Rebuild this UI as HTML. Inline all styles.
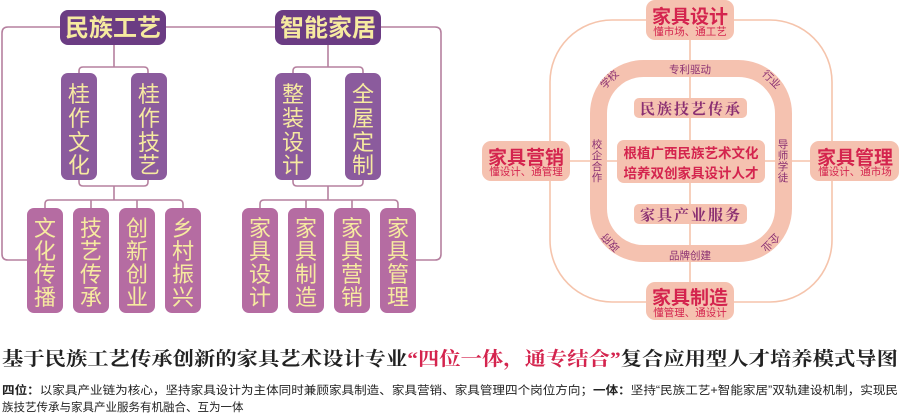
<!DOCTYPE html>
<html><head><meta charset="utf-8"><style>
body{margin:0;background:#fff;width:900px;height:418px;overflow:hidden}
svg{display:block}
.v{font-family:"Liberation Sans","Noto Sans CJK SC",sans-serif;fill:#f6eaa0}
</style></head><body>
<svg width="900" height="418" viewBox="0 0 900 418" xmlns="http://www.w3.org/2000/svg">
<g fill="none" stroke="#b5809f" stroke-width="1.6">
<path d="M60 27 H8 Q2 27 2 33 V254 Q2 260 8 260 H27"/>
<path d="M166 27 H275"/>
<path d="M381 27 H435 Q441 27 441 33 V254 Q441 260 435 260 H416"/>
<path d="M114 45 V67 M79 73 V71 Q79 67 83 67 H144 Q148 67 148 71 V73"/>
<path d="M79 180 V182 Q79 186 83 186 H144 Q148 186 148 182 V180 M114 186 V200 M45 208 V204 Q45 200 49 200 H179 Q183 200 183 204 V208 M91 200 V208 M137 200 V208"/>
<path d="M328 45 V67 M293 73 V71 Q293 67 297 67 H359 Q363 67 363 71 V73"/>
<path d="M293 180 V182 Q293 186 297 186 H359 Q363 186 363 182 V180 M328 186 V200 M260 208 V204 Q260 200 264 200 H394 Q398 200 398 204 V208 M306 200 V208 M352 200 V208"/>
</g>
<rect x="60" y="10" width="106" height="35" rx="8" fill="#6b3c83"/>
<rect x="275" y="10" width="106" height="35" rx="8" fill="#6b3c83"/>
<text x="113" y="36" text-anchor="middle" font-size="24" font-weight="bold" class="v">民族工艺</text>
<text x="328" y="36" text-anchor="middle" font-size="24" font-weight="bold" class="v">智能家居</text>
<g fill="#8b5b9d">
<rect x="61" y="73" width="36" height="107" rx="7"/><rect x="131" y="73" width="36" height="107" rx="7"/>
<rect x="275" y="73" width="36" height="107" rx="7"/><rect x="345" y="73" width="36" height="107" rx="7"/>
</g>
<g fill="#b56ca2">
<rect x="27" y="208" width="36" height="105" rx="7"/><rect x="73" y="208" width="36" height="105" rx="7"/>
<rect x="119" y="208" width="36" height="105" rx="7"/><rect x="165" y="208" width="36" height="105" rx="7"/>
<rect x="242" y="208" width="36" height="105" rx="7"/><rect x="288" y="208" width="36" height="105" rx="7"/>
<rect x="334" y="208" width="36" height="105" rx="7"/><rect x="380" y="208" width="36" height="105" rx="7"/>
</g>
<g class="v" font-size="22" text-anchor="middle">
<text x="79" y="102">桂</text><text x="79" y="126">作</text><text x="79" y="150">文</text><text x="79" y="173">化</text>
<text x="149" y="102">桂</text><text x="149" y="126">作</text><text x="149" y="150">技</text><text x="149" y="173">艺</text>
<text x="293" y="102">整</text><text x="293" y="126">装</text><text x="293" y="150">设</text><text x="293" y="173">计</text>
<text x="363" y="102">全</text><text x="363" y="126">屋</text><text x="363" y="150">定</text><text x="363" y="173">制</text>
</g>
<g class="v" font-size="22" text-anchor="middle">
<text x="45" y="236">文</text><text x="45" y="259">化</text><text x="45" y="282">传</text><text x="45" y="305">播</text>
<text x="91" y="236">技</text><text x="91" y="259">艺</text><text x="91" y="282">传</text><text x="91" y="305">承</text>
<text x="137" y="236">创</text><text x="137" y="259">新</text><text x="137" y="282">创</text><text x="137" y="305">业</text>
<text x="183" y="236">乡</text><text x="183" y="259">村</text><text x="183" y="282">振</text><text x="183" y="305">兴</text>
<text x="260" y="236">家</text><text x="260" y="259">具</text><text x="260" y="282">设</text><text x="260" y="305">计</text>
<text x="306" y="236">家</text><text x="306" y="259">具</text><text x="306" y="282">制</text><text x="306" y="305">造</text>
<text x="352" y="236">家</text><text x="352" y="259">具</text><text x="352" y="282">营</text><text x="352" y="305">销</text>
<text x="398" y="236">家</text><text x="398" y="259">具</text><text x="398" y="282">管</text><text x="398" y="305">理</text>
</g>

<g fill="none" stroke="#f5c4ac" stroke-width="1.6">
<rect x="550" y="20" width="282" height="282" rx="62"/>
<path d="M690 20 V302 M550 161 H832"/>
</g>
<rect x="598.5" y="68.5" width="185" height="185" rx="45" fill="none" stroke="#f5c2b0" stroke-width="17"/>
<g fill="#f5c2b0">
<rect x="646" y="0" width="88" height="40" rx="9"/>
<rect x="482" y="141" width="88" height="40" rx="9"/>
<rect x="810" y="141" width="89" height="40" rx="9"/>
<rect x="646" y="282" width="88" height="38" rx="9"/>
<rect x="634" y="98" width="113" height="20" rx="5"/>
<rect x="617" y="140" width="148" height="43" rx="7"/>
<rect x="634" y="204" width="113" height="20" rx="5"/>
</g>
<g font-family="Liberation Sans,'Noto Sans CJK SC',sans-serif" text-anchor="middle">
<g fill="#d4244e" font-weight="bold">
<text x="690" y="23" font-size="19">家具设计</text>
<text x="526" y="164" font-size="19">家具营销</text>
<text x="855" y="164" font-size="19">家具管理</text>
<text x="690" y="304" font-size="19">家具制造</text>
<text x="691" y="158" font-size="13.5">根植广西民族艺术文化</text>
<text x="691" y="178" font-size="13.5">培养双创家具设计人才</text>
</g>
<g fill="#d4244e" font-size="10.5">
<text x="690" y="35">懂市场、通工艺</text>
<text x="526" y="175">懂设计、通管理</text>
<text x="855" y="175">懂设计、通市场</text>
<text x="690" y="316">懂管理、通设计</text>
</g>
<g fill="#8a2f72" font-family="Liberation Serif,'Noto Serif CJK SC',serif" font-size="15" font-weight="bold">
<text x="691" y="114" letter-spacing="2">民族技艺传承</text>
<text x="691" y="220" letter-spacing="2">家具产业服务</text>
</g>
<g fill="#8a2f72" font-size="10.5">
<text x="690" y="73">专利驱动</text>
<text x="690" y="259">品牌创建</text>
<text x="597" y="148">校</text><text x="597" y="159">企</text><text x="597" y="170">合</text><text x="597" y="181">作</text>
<text x="783" y="148">导</text><text x="783" y="159">师</text><text x="783" y="170">学</text><text x="783" y="181">徒</text>
<text transform="translate(612,82) rotate(-45)">学校</text>
<text transform="translate(769,82) rotate(45)">行业</text>
<text transform="translate(613,240) rotate(-135)">政府</text>
<text transform="translate(768,240) rotate(135)">企业</text>
</g>
</g>

<text x="2" y="365" textLength="896" lengthAdjust="spacingAndGlyphs" font-family="Liberation Serif,'Noto Serif CJK SC',serif" font-size="19" font-weight="bold" fill="#222">基于民族工艺传承创新的家具艺术设计专业<tspan fill="#d4244e">“四位一体，通专结合”</tspan>复合应用型人才培养模式导图</text>
<g font-family="Liberation Sans,'Noto Sans CJK SC',sans-serif" font-size="11.5" fill="#222">
<text x="2" y="394" textLength="896" lengthAdjust="spacingAndGlyphs"><tspan font-weight="bold">四位：</tspan>以家具产业链为核心，坚持家具设计为主体同时兼顾家具制造、家具营销、家具管理四个岗位方向；<tspan font-weight="bold">一体：</tspan>坚持“民族工艺+智能家居”双轨建设机制，实现民</text>
<text x="2" y="411">族技艺传承与家具产业服务有机融合、互为一体</text>
</g>
</svg>
</body></html>
